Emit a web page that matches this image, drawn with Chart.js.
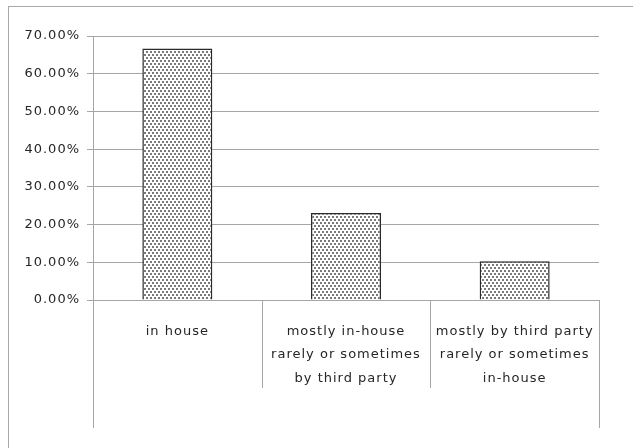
<!DOCTYPE html>
<html>
<head>
<meta charset="utf-8">
<script src="https://cdn.jsdelivr.net/npm/chart.js@4/dist/chart.umd.min.js"></script>
<style>
    html, body { margin: 0; padding: 0; background: #fff; }
    #wrap { position: relative; width: 633px; height: 448px; overflow: hidden; }
    #frame {
        position: absolute; left: 8px; top: 6px; width: 640px; height: 460px;
        border-left: 1px solid #a8a8a8; border-top: 1px solid #a8a8a8;
    }
    canvas { position: absolute; left: 0; top: 0; }
</style>
</head>
<body>
<div id="wrap">
    <div id="frame"></div>
    <canvas id="chart" width="633" height="448"></canvas>
</div>
<script>
// Data
const categories = [
    'in house',
    ['mostly in-house', 'rarely or sometimes', 'by third party'],
    ['mostly by third party', 'rarely or sometimes', 'in-house']
];
const shares = [66.67, 23.08, 10.26];
const yMax = 70;
const yStep = 10;

const GRID = '#a6a6a6';
const TEXT = '#262626';

// dotted fill like the excel pattern
function makePattern() {
    const c = document.createElement('canvas');
    c.width = 4; c.height = 6;
    const g = c.getContext('2d');
    g.fillStyle = '#ffffff';
    g.fillRect(0, 0, 4, 6);
    g.fillStyle = '#7a7a7a';
    g.fillRect(0, 0, 2, 2);
    g.fillRect(2, 3, 2, 2);
    return g.createPattern(c, 'repeat');
}

// spaced-out text, canvas state gets reset on resize so set it each pass
const spacing = {
    id: 'spacing',
    beforeLayout(chart) { chart.ctx.letterSpacing = '1px'; },
    beforeDraw(chart) { chart.ctx.letterSpacing = '1px'; }
};

// category divider lines below the axis
const dividers = {
    id: 'dividers',
    afterDraw(chart) {
        const x = chart.scales.x;
        const ctx = chart.ctx;
        const n = categories.length;
        const half = (x.getPixelForValue(1) - x.getPixelForValue(0)) / 2;
        const top = chart.chartArea.bottom;
        ctx.save();
        ctx.strokeStyle = GRID;
        ctx.lineWidth = 1;
        for (let i = 0; i <= n; i++) {
            const px = Math.round(x.getPixelForValue(0) - half + i * half * 2) + 0.5;
            const len = (i === 0 || i === n) ? 128 : 88;
            ctx.beginPath();
            ctx.moveTo(px, top);
            ctx.lineTo(px, top + len);
            ctx.stroke();
        }
        ctx.restore();
    }
};

Chart.defaults.font.family = '"DejaVu Sans", Verdana, sans-serif';
Chart.defaults.font.size = 13;
Chart.defaults.color = TEXT;

new Chart(document.getElementById('chart').getContext('2d'), {
    type: 'bar',
    data: {
        labels: categories,
        datasets: [{
            data: shares,
            backgroundColor: makePattern(),
            borderColor: '#2a2a2a',
            borderWidth: 1.5,
            borderSkipped: 'bottom',
            categoryPercentage: 0.415,
            barPercentage: 1
        }]
    },
    options: {
        responsive: false,
        animation: false,
        events: [],
        layout: { padding: { top: 36, right: 34, bottom: 0, left: 0 } },
        plugins: { legend: { display: false }, tooltip: { enabled: false } },
        scales: {
            x: {
                offset: true,
                grid: { display: false },
                border: { color: GRID },
                ticks: {
                    maxRotation: 0,
                    autoSkip: false,
                    padding: 12,
                    font: { size: 13, lineHeight: 1.8 }
                },
                afterFit(s) { s.height = 148; }
            },
            y: {
                min: 0,
                max: yMax,
                grid: { color: GRID, tickLength: 6, tickColor: GRID },
                border: { color: GRID },
                ticks: {
                    stepSize: yStep,
                    padding: 7,
                    callback: v => v.toFixed(2) + '%'
                },
                afterFit(s) { s.width = 93; }
            }
        }
    },
    plugins: [spacing, dividers]
});
</script>
</body>
</html>
